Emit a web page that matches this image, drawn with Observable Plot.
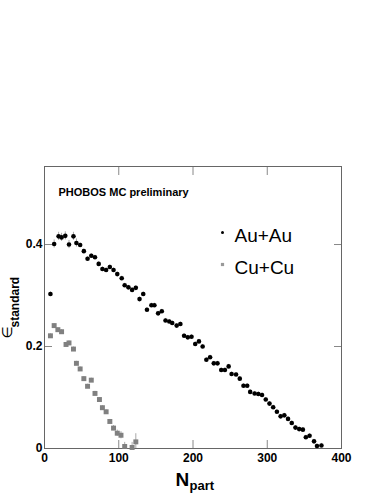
<!DOCTYPE html>
<html><head><meta charset="utf-8">
<script src="https://cdn.jsdelivr.net/npm/d3@7"></script>
<script src="https://cdn.jsdelivr.net/npm/@observablehq/plot@0.6"></script>
<style>html,body{margin:0;padding:0;background:#fff;}</style>
</head><body><div id="chart"></div>
<script>
// Au+Au
const auNpart = [8,13,19,23,28,33,39,43,48,53,58,63,68,73,78,83,88,93,98,104,108,113,118,123,128,133,138,144,148,153,158,163,168,172,178,183,188,193,198,203,208,213,218,223,228,233,238,243,248,252,258,263,268,273,277,283,288,293,298,303,308,313,318,323,328,333,338,343,348,352,357,363,367,373];
const auEcc = [0.303,0.401,0.416,0.414,0.417,0.400,0.416,0.403,0.399,0.387,0.372,0.378,0.375,0.362,0.352,0.350,0.356,0.350,0.342,0.334,0.320,0.316,0.311,0.315,0.293,0.303,0.272,0.281,0.281,0.265,0.269,0.251,0.249,0.246,0.241,0.244,0.221,0.218,0.219,0.205,0.210,0.200,0.174,0.179,0.167,0.167,0.154,0.154,0.161,0.146,0.145,0.137,0.123,0.123,0.111,0.108,0.107,0.105,0.096,0.088,0.081,0.072,0.063,0.065,0.058,0.050,0.041,0.038,0.037,0.022,0.025,0.014,0.005,0.006];
// Cu+Cu
const cuNpart = [8,13,18,23,29,33,39,43,48,53,58,63,68,74,78,83,88,93,98,103,108,118,123];
const cuEcc = [0.221,0.241,0.233,0.229,0.204,0.207,0.195,0.167,0.156,0.137,0.122,0.134,0.108,0.096,0.080,0.072,0.053,0.040,0.030,0.026,0.004,0.002,0.013];
const cuErr = [0.004,0.004,0.004,0.004,0.004,0.004,0.004,0.004,0.004,0.004,0.004,0.004,0.004,0.004,0.004,0.004,0.004,0.005,0.006,0.007,0.008,0.010,0.016];
const auErr = auNpart.map((x, i) => i > 0 && i < 8 ? 0.008 : 0.004);

const xTicks = [0, 100, 200, 300, 400];
const yTicks = [0, 0.2, 0.4];
const seriesNames = ["Au+Au", "Cu+Cu"];
const titleText = "PHOBOS MC preliminary";
const xLabel = ["N", "part"];
const yLabel = ["\u2208", "standard"];

const au = auNpart.map((x, i) => ({x, y: auEcc[i], e: auErr[i]}));
const cu = cuNpart.map((x, i) => ({x, y: cuEcc[i], e: cuErr[i]}));

const font = "'Liberation Sans', Arial, Helvetica, sans-serif";

const chart = Plot.plot({
  width: 382, height: 494,
  marginLeft: 44, marginRight: 41, marginTop: 166, marginBottom: 46,
  style: {fontFamily: font, background: "#fff", color: "#000"},
  x: {domain: [0, 400]},
  y: {domain: [0, 0.553]},
  marks: [
    // error bars
    Plot.ruleX(au, {x: "x", y1: d => d.y - d.e, y2: d => d.y + d.e, stroke: "#aaa", strokeWidth: 1}),
    Plot.ruleX(cu, {x: "x", y1: d => Math.max(0, d.y - d.e), y2: d => d.y + d.e, stroke: "#aaa", strokeWidth: 1}),
    // ticks (inward)
    Plot.axisX(xTicks, {anchor: "bottom", tickSize: -8, tickFormat: () => "", stroke: "#888", label: null}),
    Plot.axisX(xTicks, {anchor: "top", tickSize: -8, tickFormat: () => "", stroke: "#888", label: null}),
    Plot.axisY(yTicks, {anchor: "left", tickSize: -8, tickFormat: () => "", stroke: "#888", label: null}),
    Plot.axisY(yTicks, {anchor: "right", tickSize: -8, tickFormat: () => "", stroke: "#888", label: null}),
    // tick labels
    Plot.axisX(xTicks, {anchor: "bottom", tickSize: 0, tickPadding: 5, fontSize: 12, fontWeight: "bold", color: "#000", label: null}),
    Plot.axisY(yTicks, {anchor: "left", tickSize: 0, tickPadding: 2, fontSize: 12, fontWeight: "bold", color: "#000", label: null, tickFormat: d => d === 0 ? "0" : d3.format(".1f")(d)}),
    Plot.frame({stroke: "#666"}),
    // data
    Plot.dot(cu, {x: "x", y: "y", symbol: "square", r: 2.8, fill: "#808080", stroke: "none"}),
    Plot.dot(au, {x: "x", y: "y", r: 2.3, fill: "#000", stroke: "none"}),
    // title
    Plot.text([titleText], {frameAnchor: "top-left", text: d => d, dx: 14, dy: 29, lineAnchor: "bottom", textAnchor: "start", fontSize: 11, fontWeight: "bold", fill: "#000"}),
    // legend
    Plot.dot([seriesNames[0]], {frameAnchor: "top-left", dx: 178, dy: 66, r: 1.5, fill: "#000", stroke: "none"}),
    Plot.dot([seriesNames[1]], {frameAnchor: "top-left", dx: 178, dy: 98, r: 1.8, symbol: "square", fill: "#999", stroke: "none"}),
    Plot.text([seriesNames[0]], {frameAnchor: "top-left", text: d => d, dx: 190, dy: 75, lineAnchor: "bottom", textAnchor: "start", fontSize: 19, fill: "#000"}),
    Plot.text([seriesNames[1]], {frameAnchor: "top-left", text: d => d, dx: 190, dy: 107, lineAnchor: "bottom", textAnchor: "start", fontSize: 19, fill: "#000"}),
    // x label
    Plot.text([xLabel[0]], {frameAnchor: "bottom-left", text: d => d, dx: 131, dy: 37, lineAnchor: "bottom", textAnchor: "start", fontSize: 19, fontWeight: "bold", fill: "#000"}),
    Plot.text([xLabel[1]], {frameAnchor: "bottom-left", text: d => d, dx: 145, dy: 41, lineAnchor: "bottom", textAnchor: "start", fontSize: 13, fontWeight: "bold", fill: "#000"}),
    // y label
    Plot.text([yLabel[0]], {frameAnchor: "left", text: d => d, dx: -33, dy: 31, rotate: -90, lineAnchor: "bottom", textAnchor: "start", fontSize: 14, fill: "#000", fontFamily: "'DejaVu Sans', sans-serif"}),
    Plot.text([yLabel[1]], {frameAnchor: "left", text: d => d, dx: -26, dy: 20, rotate: -90, lineAnchor: "bottom", textAnchor: "start", fontSize: 12, fontWeight: "bold", fill: "#000"})
  ]
});
document.getElementById("chart").appendChild(chart);
</script>
</body></html>
